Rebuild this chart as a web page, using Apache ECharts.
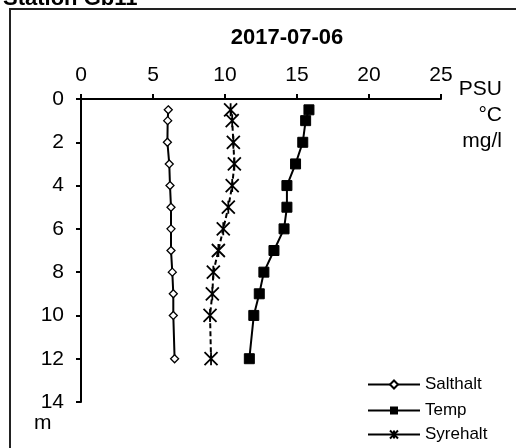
<!DOCTYPE html>
<html><head><meta charset="utf-8">
<script src="https://cdn.jsdelivr.net/npm/echarts@6/dist/echarts.min.js"></script>
<style>html,body{margin:0;padding:0;background:#fff}#c{width:516px;height:448px}</style>
</head><body><div id="c"></div>
<script>
const depths = [0.5, 1, 2, 3, 4, 5, 6, 7, 8, 9, 10, 12];
const salthalt = [6.06, 6.02, 6.0, 6.13, 6.18, 6.25, 6.25, 6.25, 6.34, 6.41, 6.41, 6.5];
const temp = [15.83, 15.6, 15.4, 14.9, 14.3, 14.3, 14.1, 13.4, 12.7, 12.38, 12.0, 11.69];
const syrehalt = [10.39, 10.5, 10.58, 10.65, 10.5, 10.23, 9.88, 9.54, 9.19, 9.12, 8.96, 9.03];
const xTicks = [0, 5, 10, 15, 20, 25];
const yTicks = [0, 2, 4, 6, 8, 10, 12, 14];
const seriesNames = ['Salthalt', 'Temp', 'Syrehalt'];
const stationTitle = 'Station Gb11';
const dateTitle = '2017-07-06';
const xUnits = ['PSU', '°C', 'mg/l'];
const yUnit = 'm';

const pair = (vals) => vals.map((v, i) => [v, depths[i]]);
const F = '"Liberation Sans", Arial, sans-serif';
const starPath = 'path://M0,0L10,10M10,0L0,10M5,0L5,10';

const legendTops = [376, 402, 426];
const legends = seriesNames.map((n, i) => ({
  orient: 'vertical', left: 367, top: legendTops[i], padding: 0,
  itemWidth: 52, itemHeight: 10,
  textStyle: { color: '#000', fontSize: 17, fontFamily: F, padding: [0, 0, 0, 0] },
  data: [i === 2 ? { name: n, lineStyle: { type: 'solid' } } : { name: n }]
}));

const chart = echarts.init(document.getElementById('c'));
chart.setOption({
  animation: false,
  backgroundColor: '#fff',
  grid: { left: 81, top: 99, right: 75, bottom: 46 },
  xAxis: {
    type: 'value', position: 'top', min: 0, max: 25, interval: 5,
    axisLine: { show: true, lineStyle: { color: '#000', width: 2 } },
    axisTick: { show: true, length: 5, lineStyle: { color: '#000', width: 2 } },
    axisLabel: { color: '#000', fontSize: 21, fontFamily: F, margin: 13,
      formatter: v => xTicks.includes(v) ? String(v) : '' },
    splitLine: { show: false }
  },
  yAxis: {
    type: 'value', inverse: true, min: 0, max: 14, interval: 2,
    axisLine: { show: true, lineStyle: { color: '#000', width: 2 } },
    axisTick: { show: true, length: 5, lineStyle: { color: '#000', width: 2 } },
    axisLabel: { color: '#000', fontSize: 21, fontFamily: F, margin: 17,
      formatter: v => yTicks.includes(v) ? String(v) : '' },
    splitLine: { show: false }
  },
  legend: legends,
  graphic: [
    { type: 'rect', shape: { x: 10, y: 9, width: 520, height: 450 },
      style: { fill: 'none', stroke: '#222', lineWidth: 2 } },
    { type: 'text', x: 3, y: 10, style: { text: stationTitle, font: 'bold 22px ' + F, fill: '#000', verticalAlign: 'bottom' } },
    { type: 'text', x: 287, y: 38, style: { text: dateTitle, font: 'bold 22px ' + F, fill: '#000', align: 'center', verticalAlign: 'middle' } },
    { type: 'text', x: 502, y: 89, style: { text: xUnits[0], font: '21px ' + F, fill: '#000', align: 'right', verticalAlign: 'middle' } },
    { type: 'text', x: 502, y: 115, style: { text: xUnits[1], font: '21px ' + F, fill: '#000', align: 'right', verticalAlign: 'middle' } },
    { type: 'text', x: 502, y: 141, style: { text: xUnits[2], font: '21px ' + F, fill: '#000', align: 'right', verticalAlign: 'middle' } },
    { type: 'text', x: 34, y: 423, style: { text: yUnit, font: '21px ' + F, fill: '#000', align: 'left', verticalAlign: 'middle' } }
  ],
  series: [
    { name: seriesNames[0], type: 'line', data: pair(salthalt),
      symbol: 'diamond', symbolSize: 8,
      itemStyle: { color: '#fff', borderColor: '#000', borderWidth: 1.3 },
      lineStyle: { color: '#000', width: 2 } },
    { name: seriesNames[1], type: 'line', data: pair(temp),
      symbol: 'rect', symbolSize: 10,
      itemStyle: { color: '#000', borderColor: '#000' },
      lineStyle: { color: '#000', width: 2 } },
    { name: seriesNames[2], type: 'line', data: pair(syrehalt),
      symbol: starPath, symbolSize: 13,
      itemStyle: { color: 'none', borderColor: '#000', borderWidth: 1.8 },
      lineStyle: { color: '#000', width: 2, type: [5, 3] } }
  ]
});
</script></body></html>
